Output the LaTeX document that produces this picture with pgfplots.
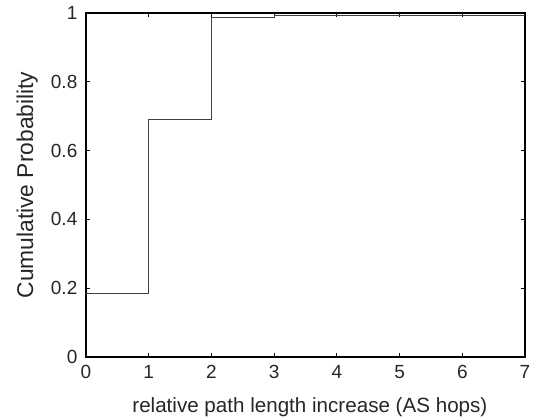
\documentclass[border=0pt]{standalone}
\usepackage{pgfplots}
\pgfplotsset{compat=1.18}
\usepackage{fontspec}
\setmainfont{Liberation Sans}
\begin{document}
\begin{tikzpicture}
\begin{axis}[
  scale only axis,
  width=219.5pt, height=172pt,
  xmin=0, xmax=7, ymin=0, ymax=1,
  xtick={0,1,2,3,4,5,6,7},
  ytick={0,0.2,0.4,0.6,0.8,1},
  yticklabels={0,0.2,0.4,0.6,0.8,1},
  tick align=inside,
  major tick length=2pt,
  axis line style={line width=0.6pt, black},
  tick style={line width=0.5pt, black},
  /pgf/number format/assume math mode=true,
  ticklabel style={font=\fontsize{9.5}{11}\selectfont, color=black!85},
  x tick label style={anchor=base, yshift=-10.7pt},
  y tick label style={anchor=east, xshift=-0.8pt},
  xlabel={relative path length increase (AS hops)},
  ylabel={Cumulative Probability},
  xlabel style={font=\fontsize{10.3}{12}\selectfont, color=black!85, at={(axis description cs:0.51,-0.16)}, anchor=base},
  ylabel style={font=\fontsize{11.4}{13}\selectfont, color=black!85, at={(axis description cs:-0.1207,0.5)}, anchor=base},
]
\addplot[const plot, line width=0.5pt, color=black!75] coordinates {
(0,0.185) (1,0.69) (2,0.988) (3,0.994) (4,0.994) (5,0.994) (6,0.994) (7,0.994)
};
\end{axis}
\pgfresetboundingbox
\path (-43pt,-30.5pt) rectangle (223.5pt,178.5pt);
\end{tikzpicture}
\end{document}
